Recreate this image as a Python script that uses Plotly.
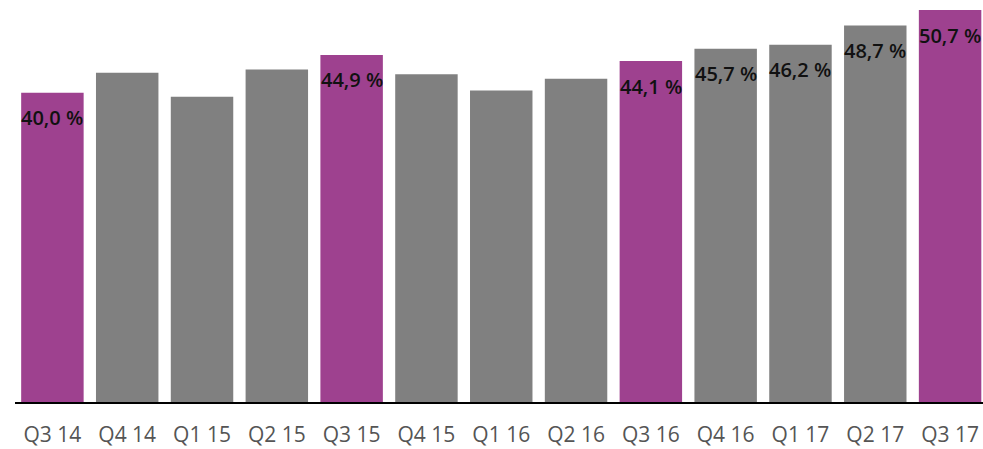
import plotly.graph_objects as go

categories = ["Q3 14", "Q4 14", "Q1 15", "Q2 15", "Q3 15", "Q4 15", "Q1 16",
              "Q2 16", "Q3 16", "Q4 16", "Q1 17", "Q2 17", "Q3 17"]
values = [40.0, 42.6, 39.5, 43.0, 44.9, 42.4, 40.3, 41.8, 44.1, 45.7, 46.2, 48.7, 50.7]
labels = ["40,0 %", "", "", "", "44,9 %", "", "", "", "44,1 %", "45,7 %", "46,2 %", "48,7 %", "50,7 %"]
highlight = [True, False, False, False, True, False, False, False, True, False, False, False, True]

PURPLE = "#9E418F"
GREY = "#808080"
colors = [PURPLE if h else GREY for h in highlight]

fig = go.Figure()
fig.add_trace(go.Bar(
    x=categories, y=values,
    marker=dict(color=colors, line=dict(width=0)),
    hoverinfo="skip",
))

for c, v, t in zip(categories, values, labels):
    if t:
        fig.add_annotation(
            x=c, y=v, text=t, showarrow=False,
            xanchor="center", yanchor="middle", yshift=-25,
            font=dict(family="Open Sans", size=20, color="#111111", weight=600),
        )

fig.update_layout(
    width=983, height=449,
    margin=dict(l=15, r=0, t=0, b=47),
    paper_bgcolor="white", plot_bgcolor="white",
    bargap=0.165,
    showlegend=False,
    xaxis=dict(
        range=[-0.5, 12.44],
        automargin=False,
        showline=True, linecolor="#000000", linewidth=1.5,
        ticks="", showgrid=False,
        tickfont=dict(family="Open Sans", size=21, color="#555555"),
        ticklabelstandoff=13,
    ),
    yaxis=dict(
        range=[0, 52.0], visible=False, showgrid=False, zeroline=False,
        automargin=False,
    ),
)

fig.write_html("out.html", config={"displayModeBar": False},
               post_script="document.body.style.margin='0';document.body.style.overflow='hidden';")
